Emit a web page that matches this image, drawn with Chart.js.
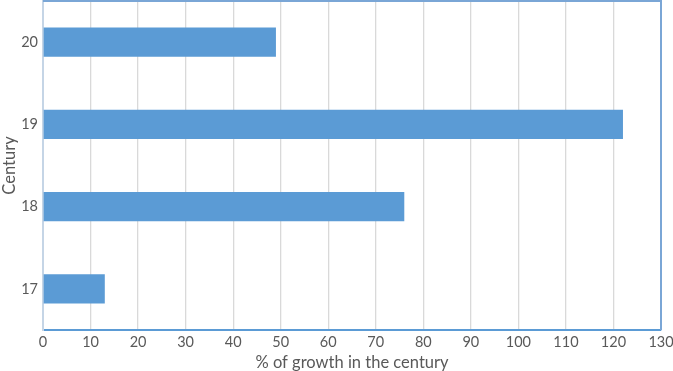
<!DOCTYPE html>
<html>
<head>
<meta charset="utf-8">
<script src="https://cdn.jsdelivr.net/npm/chart.js@4"></script>
<style>
  html, body { margin: 0; padding: 0; background: #fff; }
  #wrap { width: 673px; height: 371px; }
</style>
</head>
<body>
<div id="wrap"><canvas id="chart" width="673" height="371"></canvas></div>
<script>
// centuries, bottom to top as in the picture
const centuries = ['17', '18', '19', '20'];
const growth = [13, 76, 122, 49];
const xMin = 0;
const xMax = 130;
const xStep = 10;

// top and right edges of the plot area
const frame = {
    id: 'frame',
    afterDraw(chart) {
        const a = chart.chartArea;
        const c = chart.ctx;
        c.save();
        c.strokeStyle = '#7aa6d6';
        c.lineWidth = 2;
        c.beginPath();
        c.moveTo(a.left, a.top);
        c.lineTo(a.right, a.top);
        c.lineTo(a.right, a.bottom);
        c.stroke();
        c.restore();
    }
};

document.addEventListener('DOMContentLoaded', function() {
    const ctx = document.getElementById('chart').getContext('2d');
    Chart.defaults.font.family = 'Lato, "Open Sans", sans-serif';
    Chart.defaults.font.size = 14.5;
    Chart.defaults.color = '#595959';

    new Chart(ctx, {
        type: 'bar',
        data: {
            labels: centuries,
            datasets: [{
                data: growth,
                backgroundColor: '#5b9bd5',
                borderWidth: 0,
                categoryPercentage: 1,
                barPercentage: 0.355
            }]
        },
        options: {
            indexAxis: 'y',
            responsive: false,
            animation: false,
            layout: { padding: { top: 1, right: 12, left: 0, bottom: 0 } },
            plugins: { legend: { display: false }, tooltip: { enabled: false } },
            scales: {
                x: {
                    min: xMin,
                    max: xMax,
                    ticks: { stepSize: xStep, padding: 4 },
                    grid: { color: '#d9d9d9', lineWidth: 1.3, drawTicks: false },
                    border: { color: '#5b9bd5', width: 2 },
                    title: { display: true, text: '% of growth in the century', font: { size: 16.5, lineHeight: 1 }, padding: { top: 0, bottom: 0 } },
                    afterFit(scale) {
                        scale.height = 41;
                        scale.paddingLeft = 0;
                        scale.paddingRight = 0;
                    }
                },
                y: {
                    reverse: true,
                    ticks: { padding: 5 },
                    grid: { display: false, drawTicks: false },
                    border: { color: '#c5d5e6', width: 2 },
                    title: { display: true, text: 'Century', font: { size: 16.5 }, padding: { top: 0, bottom: 0 } },
                    afterFit(scale) {
                        scale.width = 43;
                        scale.paddingTop = 0;
                        scale.paddingBottom = 0;
                    }
                }
            }
        },
        plugins: [frame]
    });
});
</script>
</body>
</html>
